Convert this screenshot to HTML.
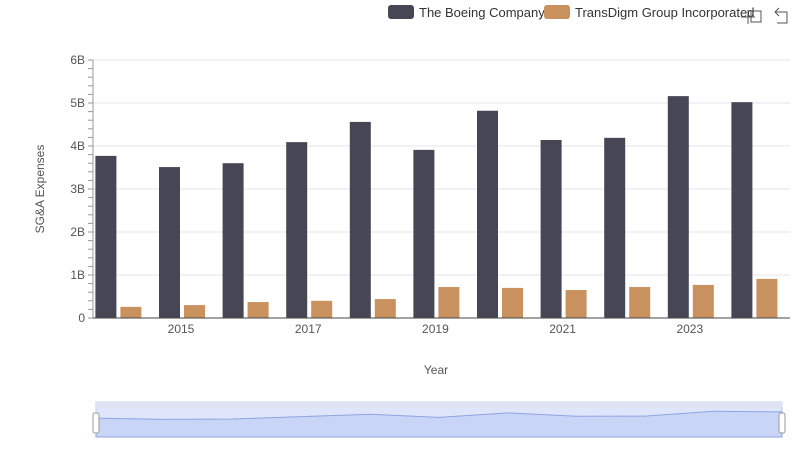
<!DOCTYPE html>
<html><head><meta charset="utf-8"><style>
body{margin:0;background:#fff;font-family:"Liberation Sans",sans-serif;}
svg text{font-family:"Liberation Sans",sans-serif;}
</style></head><body>
<svg id="chart" width="800" height="461" xmlns="http://www.w3.org/2000/svg">
<g>
 <g><rect x="388" y="5" width="26" height="14" rx="3" fill="#474654"/><text x="419" y="17" font-size="13" fill="#333">The Boeing Company</text></g>
 <g><rect x="544" y="5" width="26" height="14" rx="3" fill="#c8915e"/><text x="575" y="17" font-size="13" fill="#333">TransDigm Group Incorporated</text></g>
 <g stroke="#555" fill="none"><path d="M748 10v14M741 17h14"/><rect x="751" y="11" width="10" height="11"/></g>
 <g stroke="#555" fill="none"><path d="M775 12h12v11h-10M779 8l-4 4 4 4"/></g>
</g>
<g id="grid"></g>
<g id="bars"></g>
<g id="axes"></g>
<text x="44" y="189" font-size="12" fill="#555" text-anchor="middle" transform="rotate(-90 44 189)">SG&amp;A Expenses</text>
<text x="436" y="374" font-size="12" fill="#555" text-anchor="middle">Year</text>
<g>
 <rect x="96" y="402" width="686" height="35" fill="#dfe6fb" stroke="#c8d0e8"/>
 <rect x="96" y="402" width="686" height="6" fill="#dde3f4"/>
 <path id="navline" fill="#c9d5f7" stroke="#8fa5e0" stroke-width="1"/>
 <rect x="93" y="413" width="6" height="20" rx="2" fill="#fff" stroke="#999"/>
 <rect x="779" y="413" width="6" height="20" rx="2" fill="#fff" stroke="#999"/>
</g>
</svg>
<script>
const years=[2014,2015,2016,2017,2018,2019,2020,2021,2022,2023,2024];
const boeing=[3.77,3.51,3.60,4.09,4.56,3.91,4.82,4.14,4.19,5.16,5.02];
const transdigm=[0.26,0.30,0.37,0.40,0.44,0.72,0.70,0.65,0.72,0.77,0.91];
const yTicks=[0,1,2,3,4,5,6];
const yTickLabels=["0","1B","2B","3B","4B","5B","6B"];
const xLabelYears=[2015,2017,2019,2021,2023];
const NS="http://www.w3.org/2000/svg";
const y0=318,y6=60,step=63.6,c0=117.4;
const yS=v=>y0-(v/6)*(y0-y6);
const xS=yr=>c0+(yr-years[0])*step;
function mk(tag,attrs,parent){const e=document.createElementNS(NS,tag);for(const k in attrs)e.setAttribute(k,attrs[k]);parent.appendChild(e);return e;}
const grid=document.getElementById('grid'),bars=document.getElementById('bars'),axes=document.getElementById('axes');
yTicks.forEach((t,i)=>{
 const l=mk('line',{x1:93,x2:790,y1:yS(t),y2:yS(t),stroke:'#e4e6ee'},grid);
 
 
 const tx=mk('text',{x:85,y:yS(t)+4,'font-size':12,fill:'#555','text-anchor':'end'},axes);
 tx.textContent=yTickLabels[i];
 
 
});
for(let v=0;v<=6.001;v+=0.2){const m=mk('line',{x1:88,x2:93,y1:yS(v),y2:yS(v),stroke:'#999'},axes);
 
 }
const ax=mk('line',{x1:93,x2:93,y1:y6,y2:y0,stroke:'#999'},axes);


const bx=mk('line',{x1:93,x2:790,y1:y0,y2:y0,stroke:'#444'},axes);


xLabelYears.forEach(yr=>{const t=mk('text',{x:xS(yr),y:333,'font-size':12,fill:'#555','text-anchor':'middle'},axes);t.textContent=yr;
 
 });
years.forEach((yr,i)=>{
 const c=xS(yr);
 const b=mk('rect',{x:c-22,y:yS(boeing[i]),width:21,height:y0-yS(boeing[i]),fill:'#474654'},bars);
 
 
 const t=mk('rect',{x:c+3,y:yS(transdigm[i]),width:21,height:y0-yS(transdigm[i]),fill:'#c8915e'},bars);
 
 
});
// navigator line
const nx=yr=>96+(yr-years[0])/(years.length-1)*686;
const ny=v=>437-(v/6)*30;
let d='M96 437';years.forEach((yr,i)=>{d+=' L'+nx(yr).toFixed(1)+' '+ny(boeing[i]+transdigm[i]*0).toFixed(1);});d+=' L782 437Z';
document.getElementById('navline').setAttribute('d',d);
</script>
</body></html>
